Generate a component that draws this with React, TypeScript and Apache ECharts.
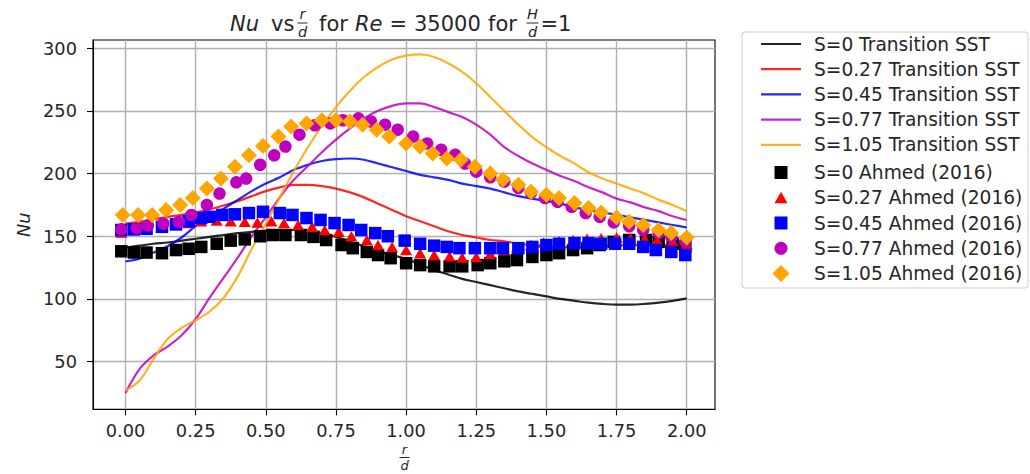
import React, { useEffect, useRef } from "react";
import * as echarts from "echarts";

// ---------- tick labels ----------
const X_TICKS = [0, 0.25, 0.5, 0.75, 1.0, 1.25, 1.5, 1.75, 2.0];
const Y_TICKS = [50, 100, 150, 200, 250, 300];

// ---------- CFD curves (Transition SST) ----------
const X_LINE = [0, 0.05, 0.1, 0.15, 0.2, 0.25, 0.3, 0.35, 0.4, 0.45, 0.5, 0.55, 0.6, 0.65, 0.7, 0.75, 0.8, 0.85, 0.9, 0.95, 1.0, 1.05, 1.1, 1.15, 1.2, 1.25, 1.3, 1.35, 1.4, 1.45, 1.5, 1.55, 1.6, 1.65, 1.7, 1.75, 1.8, 1.85, 1.9, 1.95, 2.0];
const SST_S0 = [141, 142.5, 144, 145, 146.5, 148, 149.5, 151, 152.5, 153.5, 154.5, 155, 155, 154, 152, 149.5, 146, 142, 138.5, 135, 132, 127.5, 123, 119.5, 116, 113.5, 111, 108.5, 106, 104, 102, 100, 98.5, 97, 96, 95.5, 95.5, 96, 97, 98.5, 100.5];
const SST_S027 = [160, 161.5, 163.5, 165.5, 167, 169, 171.5, 174.5, 178, 182, 186, 189, 191, 191, 190, 188, 185, 181, 176, 171, 166, 162, 158, 154, 151, 149, 147, 146, 144, 143, 142, 141.5, 141, 141.5, 142, 142.5, 143, 143, 143, 143, 143];
const SST_S045 = [130, 132, 137, 142, 149, 158, 165, 172, 179, 186, 192, 197, 203, 207, 210, 211.5, 212, 211, 208, 205, 202, 199, 197, 195, 192, 190, 188, 185, 182, 180, 178, 176, 173, 171, 169, 167, 165, 163, 161, 159, 157];
const SST_S077 = [25, 44, 55, 62, 71, 84, 101, 117, 133, 150, 165, 181, 195, 206, 217, 227, 236, 244, 250, 254, 256, 256, 253, 249, 245, 239, 231, 221, 214, 208, 203, 198, 194, 189, 185, 180, 177, 173, 170, 166, 163];
const SST_S105 = [27, 35, 52, 68, 77, 83, 90, 101, 118, 140, 160, 181, 202, 221, 238, 253, 266, 277, 285, 291, 294, 295, 293, 288, 281, 272, 261, 250, 239, 229, 221, 214, 208, 201, 196, 192, 188, 184, 179, 175, 170];

// ---------- Ahmed (2016) experiments ----------
const AH_S0_X = [-0.015, 0.03, 0.075, 0.13, 0.18, 0.225, 0.27, 0.325, 0.375, 0.425, 0.48, 0.525, 0.57, 0.625, 0.67, 0.715, 0.77, 0.81, 0.86, 0.9, 0.945, 1.0, 1.05, 1.1, 1.155, 1.2, 1.255, 1.3, 1.35, 1.395, 1.45, 1.5, 1.545, 1.595, 1.645, 1.69, 1.74, 1.795, 1.855, 1.9, 1.95, 1.995];
const AH_S0_Y = [138, 137, 137, 136.5, 139, 140, 141.5, 144, 146.5, 147.5, 150, 151, 151, 151, 149.5, 147, 143, 140.5, 137.5, 135, 132.5, 128.5, 127, 126, 126, 126, 127, 128.5, 130, 131, 133.5, 135, 136.5, 139, 140.5, 143, 145.5, 147, 147, 145.5, 144, 142];

const AH_S027_X = [-0.015, 0.03, 0.075, 0.13, 0.18, 0.225, 0.27, 0.325, 0.375, 0.425, 0.47, 0.52, 0.565, 0.615, 0.665, 0.71, 0.76, 0.805, 0.86, 0.9, 0.95, 1.0, 1.05, 1.1, 1.155, 1.2, 1.25, 1.3, 1.35, 1.395, 1.445, 1.49, 1.545, 1.595, 1.645, 1.695, 1.75, 1.8, 1.85, 1.895, 1.95, 2.0];
const AH_S027_Y = [153, 155, 157, 158, 159, 160.5, 162, 162.5, 162, 161.5, 161, 162, 160.5, 159, 157.5, 155, 153.5, 150, 147, 143, 141.5, 139, 136.5, 135, 134, 133, 133.5, 136, 139, 141, 143, 145, 146, 147, 148, 148.5, 149, 148.5, 148, 147, 146, 144];

const AH_S045_X = [-0.015, 0.03, 0.075, 0.13, 0.18, 0.225, 0.27, 0.3, 0.345, 0.39, 0.44, 0.49, 0.55, 0.595, 0.645, 0.695, 0.745, 0.795, 0.84, 0.89, 0.935, 0.995, 1.05, 1.1, 1.145, 1.19, 1.245, 1.3, 1.345, 1.4, 1.45, 1.5, 1.545, 1.6, 1.65, 1.695, 1.745, 1.795, 1.845, 1.89, 1.945, 1.995];
const AH_S045_Y = [155, 155.5, 156, 157.5, 159.5, 162, 164.5, 165.5, 167, 167.5, 168.5, 169.5, 168.5, 167, 164.5, 163, 160.5, 159, 155, 152.5, 150, 146.5, 144, 142.5, 141.5, 140.5, 140.5, 140.5, 140.5, 140.5, 141.5, 143, 144, 144.5, 144.5, 144, 144, 144, 141.5, 139, 137.5, 135];

const AH_S077_X = [-0.015, 0.04, 0.08, 0.135, 0.19, 0.235, 0.29, 0.335, 0.395, 0.43, 0.48, 0.53, 0.57, 0.62, 0.675, 0.73, 0.775, 0.83, 0.875, 0.925, 0.97, 1.025, 1.075, 1.125, 1.175, 1.21, 1.25, 1.3, 1.35, 1.4, 1.445, 1.495, 1.54, 1.59, 1.64, 1.69, 1.74, 1.795, 1.845, 1.9, 1.945, 1.995];
const AH_S077_Y = [155.5, 156.5, 158.5, 160, 161.5, 167, 175, 184, 193, 196, 207, 214.5, 221.5, 231, 238.5, 240, 242.5, 244, 241.5, 239, 235, 229.5, 224, 219, 215, 208, 201.5, 197, 193.5, 188.5, 184.5, 180.5, 177.5, 173.5, 168.5, 165.5, 161, 158, 155, 152.5, 149.5, 146];

const AH_S105_X = [-0.01, 0.045, 0.095, 0.145, 0.195, 0.24, 0.29, 0.34, 0.39, 0.44, 0.49, 0.545, 0.59, 0.645, 0.7, 0.75, 0.8, 0.845, 0.895, 0.94, 1.0, 1.05, 1.095, 1.145, 1.195, 1.245, 1.3, 1.345, 1.4, 1.445, 1.5, 1.545, 1.6, 1.65, 1.695, 1.75, 1.795, 1.845, 1.9, 1.945, 2.0];
const AH_S105_Y = [167, 167, 167, 171, 175, 180.5, 188, 196, 205.5, 214.5, 222, 229.5, 237.5, 240, 242.5, 242.5, 241.5, 239, 235, 229.5, 224, 221.5, 216, 212, 211, 205.5, 200, 195, 191, 185.5, 183, 180.5, 176.5, 172.5, 169, 165, 161.5, 159, 155, 152.5, 149];

const LINE_NAMES = ["S=0 Transition SST", "S=0.27 Transition SST", "S=0.45 Transition SST", "S=0.77 Transition SST", "S=1.05 Transition SST"];
const MARK_NAMES = ["S=0 Ahmed (2016)", "S=0.27 Ahmed (2016)", "S=0.45 Ahmed (2016)", "S=0.77 Ahmed (2016)", "S=1.05 Ahmed (2016)"];

const COLORS = ["#000000", "#ff0000", "#0000ff", "#bf00bf", "#ffa500"];
const FONT = '"DejaVu Sans", "Liberation Sans", sans-serif';

function zip(xs: number[], ys: number[]) {
  return xs.map((x, i) => [x, ys[i]]);
}

export default function App() {
  const ref = useRef<HTMLDivElement>(null);

  useEffect(() => {
    if (!ref.current) return;
    const chart = echarts.init(ref.current, null, { renderer: "svg" });

    const lineSets = [SST_S0, SST_S027, SST_S045, SST_S077, SST_S105];
    const markSets: [number[], number[]][] = [
      [AH_S0_X, AH_S0_Y],
      [AH_S027_X, AH_S027_Y],
      [AH_S045_X, AH_S045_Y],
      [AH_S077_X, AH_S077_Y],
      [AH_S105_X, AH_S105_Y],
    ];
    const symbols: any[] = ["rect", "triangle", "rect", "circle", "diamond"];
    const symSizes: any[] = [12.5, [12, 10.5], 12.5, 12.5, 16];

    const series: any[] = [];
    lineSets.forEach((ys, i) => {
      series.push({
        type: "line",
        name: LINE_NAMES[i],
        data: zip(X_LINE, ys),
        smooth: 0.35,
        showSymbol: false,
        symbol: "none",
        lineStyle: { color: COLORS[i], width: 2.2, opacity: 0.85 },
        itemStyle: { color: COLORS[i] },
        z: 2,
        silent: true,
      });
    });
    markSets.forEach(([xs, ys], i) => {
      series.push({
        type: "scatter",
        name: MARK_NAMES[i],
        data: zip(xs, ys),
        symbol: symbols[i],
        symbolSize: symSizes[i],
        itemStyle: { color: COLORS[i], opacity: 1 },
        z: 3 + i,
        silent: true,
      });
    });

    // ---------- legend (drawn as graphic) ----------
    const rowY = [44, 69.2, 94.4, 119.6, 144.9, 172.5, 197.8, 223, 248.3, 273.5];
    const legendEls: any[] = [
      {
        type: "rect",
        shape: { x: 742, y: 32, width: 286, height: 256, r: 3 },
        style: { fill: "rgba(255,255,255,0.8)", stroke: "#cccccc", lineWidth: 1 },
        z: 100,
      },
    ];
    const hx = 781;
    LINE_NAMES.forEach((n, i) => {
      legendEls.push({
        type: "line",
        shape: { x1: 761, y1: rowY[i], x2: 801, y2: rowY[i] },
        style: { stroke: COLORS[i], lineWidth: 2.2, opacity: 0.85 },
        z: 101,
      });
    });
    MARK_NAMES.forEach((n, i) => {
      const y = rowY[5 + i];
      const c = COLORS[i];
      if (i === 0 || i === 2) {
        legendEls.push({ type: "rect", shape: { x: hx - 6.5, y: y - 6.5, width: 13, height: 13 }, style: { fill: c }, z: 101 });
      } else if (i === 1) {
        legendEls.push({ type: "polygon", shape: { points: [[hx, y - 6], [hx + 6.5, y + 5.5], [hx - 6.5, y + 5.5]] }, style: { fill: c }, z: 101 });
      } else if (i === 3) {
        legendEls.push({ type: "circle", shape: { cx: hx, cy: y, r: 6.5 }, style: { fill: c }, z: 101 });
      } else {
        legendEls.push({ type: "polygon", shape: { points: [[hx, y - 8.5], [hx + 8.5, y], [hx, y + 8.5], [hx - 8.5, y]] }, style: { fill: c }, z: 101 });
      }
    });
    [...LINE_NAMES, ...MARK_NAMES].forEach((n, i) => {
      legendEls.push({
        type: "text",
        x: 814,
        y: rowY[i],
        style: { text: n, font: `18.6px ${FONT}`, fill: "#262626", textAlign: "left", textVerticalAlign: "middle", align: "left", verticalAlign: "middle" },
        z: 101,
      });
    });

    // ---------- title (mathtext-like, pieces) ----------
    const tY = 24;
    const tFont = (italic: boolean, size = 21) => `${italic ? "italic " : ""}${size}px ${FONT}`;
    const tText = (x: number, s: string, italic = false) => ({
      type: "text",
      x,
      y: tY,
      style: { text: s, font: tFont(italic), fill: "#262626", textAlign: "left", textVerticalAlign: "middle", align: "left", verticalAlign: "middle" },
    });
    const frac = (cx: number, cy: number, num: string, den: string, size: number, barW: number) => [
      { type: "text", x: cx, y: cy - size * 0.62, style: { text: num, font: tFont(true, size), fill: "#262626", textAlign: "center", textVerticalAlign: "middle", align: "center", verticalAlign: "middle" } },
      { type: "line", shape: { x1: cx - barW / 2, y1: cy, x2: cx + barW / 2, y2: cy }, style: { stroke: "#262626", lineWidth: 1 } },
      { type: "text", x: cx, y: cy + size * 0.62, style: { text: den, font: tFont(true, size), fill: "#262626", textAlign: "center", textVerticalAlign: "middle", align: "center", verticalAlign: "middle" } },
    ];
    const titleEls: any[] = [
      tText(230, "Nu", true),
      tText(271, "vs"),
      ...frac(302.5, 23, "r", "d", 14.5, 10),
      tText(319, "for"),
      tText(355, "Re", true),
      tText(389.5, "="),
      tText(414, "35000"),
      tText(488, "for"),
      ...frac(532.5, 23, "H", "d", 14.5, 12),
      tText(540.5, "=1"),
    ];
    const xNameEls: any[] = frac(404.5, 457.5, "r", "d", 13, 10);

    chart.setOption({
      animation: false,
      backgroundColor: "#ffffff",
      grid: { left: 93, right: 315, top: 40, bottom: 64.7, show: true, borderColor: "#000", borderWidth: 1.1, backgroundColor: "transparent" },
      xAxis: {
        type: "value",
        min: -0.1158,
        max: 2.1008,
        axisLine: { onZero: false, lineStyle: { color: "#000", width: 1.1 } },
        axisTick: { show: true, customValues: X_TICKS, length: 6, lineStyle: { color: "#000", width: 1.1 } },
        axisLabel: { customValues: X_TICKS, formatter: (v: number) => v.toFixed(2), fontSize: 17.8, fontFamily: FONT, color: "#262626", margin: 21, verticalAlign: "middle" },
        splitLine: { show: true, lineStyle: { color: "#b0b0b0", width: 1.4 } },
      },
      yAxis: {
        type: "value",
        min: 12,
        max: 306.5,
        name: "Nu",
        nameLocation: "middle",
        nameGap: 57,
        nameRotate: 90,
        nameTextStyle: { fontSize: 17.8, fontFamily: FONT, fontStyle: "italic", color: "#262626" },
        axisLine: { show: true, onZero: false, lineStyle: { color: "#000", width: 1.1 } },
        axisTick: { show: true, customValues: Y_TICKS, length: 6, lineStyle: { color: "#000", width: 1.1 } },
        axisLabel: { customValues: Y_TICKS, fontSize: 17.8, fontFamily: FONT, color: "#262626", margin: 16 },
        splitLine: { show: true, lineStyle: { color: "#b0b0b0", width: 1.4 } },
      },
      series,
      graphic: { elements: [...legendEls, ...titleEls, ...xNameEls] },
    });

    return () => chart.dispose();
  }, []);

  return <div ref={ref} style={{ position: "fixed", left: 0, top: 0, width: 1030, height: 474 }} />;
}
